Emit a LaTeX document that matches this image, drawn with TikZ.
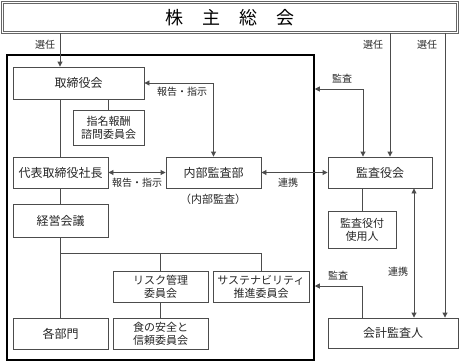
\documentclass[tikz,border=0pt]{standalone}
\usepackage{fontspec}
\setmainfont{Noto Sans CJK JP}
\usetikzlibrary{arrows.meta}
\begin{document}
\begin{tikzpicture}[x=1pt,y=-1pt,
  box/.style={draw=black!70, line width=0.9pt, inner sep=0pt, align=center, font=\fontsize{12}{14}\selectfont, text=black!85},
  lbl/.style={font=\fontsize{10}{12}\selectfont, text=black!85, inner sep=0pt},
  conn/.style={draw=black!70, line width=0.9pt},
  tip/.tip={Triangle[length=5pt,width=5pt]},
  arr/.style={conn,-tip},
  arrb/.style={conn,tip-tip}]
\useasboundingbox (0,0) rectangle (460,362);
% top
\node[draw=black!60, double, double distance=1.3pt, line width=0.7pt, minimum width=455pt, minimum height=30pt, inner sep=0pt,
  font=\fontsize{18}{20}\selectfont] (top) at (230,17.5) {株\hspace{19pt}主\hspace{19pt}総\hspace{19pt}会};
% frame
\node[draw=black, line width=1.5pt, minimum width=307pt, minimum height=305pt, inner sep=0pt] (frame) at (160.5,207.5) {};
% boxes
\node[box, minimum width=131pt, minimum height=32pt] (board) at (78.5,83) {取締役会};
\node[box, minimum width=71pt, minimum height=35pt, font=\fontsize{11}{13}\selectfont] (nomi) at (108.5,127.5) {指名報酬\\諮問委員会};
\node[box, minimum width=95pt, minimum height=31pt] (pres) at (60.5,172.5) {代表取締役社長};
\node[box, minimum width=95pt, minimum height=31pt] (audit) at (213.5,172.5) {内部監査部};
\node[box, minimum width=95pt, minimum height=33pt] (mgmt) at (60.5,220.5) {経営会議};
\node[box, minimum width=95pt, minimum height=31pt] (each) at (60.5,333.5) {各部門};
\node[box, minimum width=95pt, minimum height=31pt, font=\fontsize{11}{13}\selectfont] (risk) at (160.5,286.5) {リスク管理\\委員会};
\node[box, minimum width=96pt, minimum height=31pt, font=\fontsize{11}{13}\selectfont] (sust) at (261,286.5) {サステナビリティ\\推進委員会};
\node[box, minimum width=95pt, minimum height=31pt, font=\fontsize{11}{13}\selectfont] (food) at (160.5,333.5) {食の安全と\\信頼委員会};
\node[box, minimum width=104pt, minimum height=31pt] (kan) at (380,172.5) {監査役会};
\node[box, minimum width=68pt, minimum height=37pt, font=\fontsize{11}{13}\selectfont] (staff) at (362,229.5) {監査役付\\使用人};
\node[box, minimum width=130pt, minimum height=30pt] (acc) at (393,333) {会計監査人};
% coordinates
\coordinate (xa) at (60,0);
\coordinate (xk1) at (363,0);
\coordinate (xk2) at (390,0);
\coordinate (xk3) at (414,0);
\coordinate (xk4) at (445,0);
\coordinate (xk5) at (362,0);
\coordinate (ya) at (0,89);
\coordinate (yb) at (0,253);
\coordinate (yc) at (0,286);
% connectors
\draw[arr] (top.south -| xa) -- (board.north -| xa);
\draw[conn] (board.south -| xa) -- (pres.north -| xa);
\draw[conn] (board.south -| nomi.north) -- (nomi.north);
\draw[arrb] (board.east) -| (audit.north);
\draw[arrb] (pres.east) -- (audit.west);
\draw[arrb] (audit.east) -- (kan.west);
\draw[conn] (pres.south) -- (mgmt.north);
\draw[conn] (mgmt.south) -- (each.north);
\draw[conn] (mgmt.south |- yb) -| (sust.north);
\draw[conn] (risk.north |- yb) -- (risk.north);
\draw[conn] (risk.south) -- (food.north);
\draw[arrb] (frame.east |- ya) -| (kan.north -| xk1);
\draw[arr] (top.south -| xk2) -- (kan.north -| xk2);
\draw[arr] (top.south -| xk4) -- (acc.north -| xk4);
\draw[arrb] (kan.south -| xk3) -- (acc.north -| xk3);
\draw[arr] (acc.north -| xk5) |- (frame.east |- yc);
\draw[conn] (kan.south -| staff.north) -- (staff.north);
% labels
\node[lbl] (l1) at (45,45) {選任};
\node[lbl] (l2) at (373,45) {選任};
\node[lbl] (l3) at (427,45) {選任};
\node[lbl] (l4) at (342,79) {監査};
\node[lbl] (l5) at (338,276) {監査};
\node[lbl] (l6) at (182,92) {報告・指示};
\node[lbl] (l7) at (137,183) {報告・指示};
\node[lbl] (l8) at (288,183) {連携};
\node[lbl] (l9) at (398,272) {連携};
\node[lbl, font=\fontsize{11}{13}\selectfont] (l10) at (213,199) {（内部監査）};
\end{tikzpicture}
\end{document}
